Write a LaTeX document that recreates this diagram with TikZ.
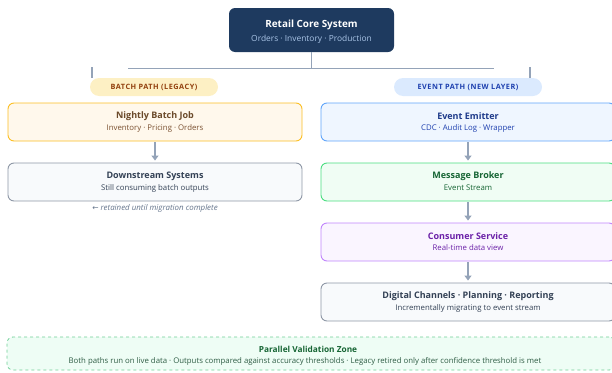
\documentclass[tikz,border=0pt]{standalone}
\usepackage{fontspec}
\setmainfont{Open Sans}
\newfontfamily\symfont{DejaVu Sans}
\usetikzlibrary{arrows.meta}
\definecolor{navy}{HTML}{1E3A5F}
\definecolor{navysub}{HTML}{A9C4E6}
\definecolor{linegray}{HTML}{94A3B8}
\definecolor{ybadge}{HTML}{FDF0C4}
\definecolor{ytext}{HTML}{92400E}
\definecolor{bbadge}{HTML}{DBEAFE}
\definecolor{btext}{HTML}{1E40AF}
\definecolor{orfill}{HTML}{FFF8EC}
\definecolor{ordraw}{HTML}{FBBF24}
\definecolor{ortitle}{HTML}{6B4A2A}
\definecolor{orsub}{HTML}{7A5030}
\definecolor{blfill}{HTML}{EFF6FF}
\definecolor{bldraw}{HTML}{60A5FA}
\definecolor{bltitle}{HTML}{1E3A8A}
\definecolor{grfill}{HTML}{F8FAFC}
\definecolor{grdraw}{HTML}{8E97A6}
\definecolor{grtitle}{HTML}{334155}
\definecolor{gnfill}{HTML}{F0FDF4}
\definecolor{gndraw}{HTML}{4ADE80}
\definecolor{gntitle}{HTML}{166534}
\definecolor{zsub}{HTML}{2F5D45}
\definecolor{pufill}{HTML}{FAF5FF}
\definecolor{pudraw}{HTML}{C084FC}
\definecolor{putitle}{HTML}{6B21A8}
\definecolor{zfill}{HTML}{EEFDF5}
\definecolor{zdraw}{HTML}{6FCF97}
\definecolor{notegray}{HTML}{64748B}
\tikzset{
  box/.style={rectangle, rounded corners=6pt, line width=0.9pt, minimum width=294pt, minimum height=38pt, inner sep=0pt},
  ttl/.style={font=\bfseries\fontsize{9}{10}\selectfont, inner sep=0pt, anchor=center},
  sub/.style={font=\fontsize{7.8}{9}\selectfont, inner sep=0pt, anchor=center},
  badge/.style={rectangle, rounded corners=9pt, minimum width=128pt, minimum height=18pt, inner sep=0pt, font=\bfseries\fontsize{7.3}{8}\selectfont\addfontfeatures{LetterSpace=7}},
  conn/.style={draw=linegray, line width=1.3pt},
  flow/.style={draw=linegray, line width=1.3pt, -{Triangle[length=5pt,width=7pt]}, shorten >=2pt, shorten <=1pt}
}
\begin{document}
\begin{tikzpicture}[x=1pt,y=-1pt]
\useasboundingbox (0,0) rectangle (612,372);
% core
\node[rectangle, rounded corners=6pt, fill=navy, minimum width=165pt, minimum height=44pt, inner sep=0pt] (core) at (311.5,30) {};
\node[ttl, text=white, font=\bfseries\fontsize{9.9}{11}\selectfont] (coret) at (311.5,25) {Retail Core System};
\node[sub, text=navysub, font=\fontsize{8.4}{9}\selectfont] (cores) at (311.5,39.5) {Orders · Inventory · Production};
% connectors from core
\coordinate (j) at (311.5,68);
\coordinate (hl) at (128,68);
\coordinate (hr) at (494,68);
\coordinate (sl1) at (92,67);
\coordinate (sl2) at (92,78);
\coordinate (sr1) at (530,67);
\coordinate (sr2) at (530,78);
\draw[conn] (core.south) -- (j);
\draw[draw=linegray, line width=1pt] (hl) -- (hr);
\draw[conn] (sl1) -- (sl2);
\draw[conn] (sr1) -- (sr2);
% badges
\node[badge, fill=ybadge, text=ytext] (bb) at (154,87) {BATCH PATH (LEGACY)};
\node[badge, fill=bbadge, text=btext, minimum width=148pt] (eb) at (468,87) {EVENT PATH (NEW LAYER)};
% left column
\node[box, fill=orfill, draw=ordraw] (nb) at (155,122) {};
\node[ttl, text=ortitle] (nbt) at (155,116.5) {Nightly Batch Job};
\node[sub, text=orsub] (nbs) at (155,128) {Inventory · Pricing · Orders};
\node[box, fill=grfill, draw=grdraw] (ds) at (155,182) {};
\node[ttl, text=grtitle] (dst) at (155,176.5) {Downstream Systems};
\node[sub, text=grtitle] (dss) at (155,188) {Still consuming batch outputs};
\node[sub, text=notegray, font=\itshape\fontsize{7.9}{8}\selectfont] (note) at (155,208.5) {{\symfont\fontsize{7.5}{8}\selectfont ←} retained until migration complete};
\draw[flow] (nb) -- (ds);
% right column
\node[box, fill=blfill, draw=bldraw] (ee) at (468,122) {};
\node[ttl, text=bltitle] (eet) at (468,116.5) {Event Emitter};
\node[sub, text=btext] (ees) at (468,128) {CDC · Audit Log · Wrapper};
\node[box, fill=gnfill, draw=gndraw] (mb) at (468,182) {};
\node[ttl, text=gntitle] (mbt) at (468,176.5) {Message Broker};
\node[sub, text=gntitle] (mbs) at (468,188) {Event Stream};
\node[box, fill=pufill, draw=pudraw] (cs) at (468,242) {};
\node[ttl, text=putitle] (cst) at (468,236.5) {Consumer Service};
\node[sub, text=putitle] (css) at (468,248) {Real-time data view};
\node[box, fill=grfill, draw=grdraw] (dc) at (468,302) {};
\node[ttl, text=grtitle] (dct) at (468,296.5) {Digital Channels · Planning · Reporting};
\node[sub, text=grtitle] (dcs) at (468,308) {Incrementally migrating to event stream};
\draw[flow] (ee) -- (mb);
\draw[flow] (mb) -- (cs);
\draw[flow] (cs) -- (dc);
% validation zone
\node[rectangle, rounded corners=6pt, fill=zfill, draw=zdraw, dashed, line width=0.8pt, minimum width=608pt, minimum height=33pt, inner sep=0pt] (zone) at (311,353.5) {};
\node[ttl, text=gntitle, font=\bfseries\fontsize{8.3}{9}\selectfont] (zt) at (308,349) {Parallel Validation Zone};
\node[sub, text=zsub] (zs) at (305,361) {Both paths run on live data · Outputs compared against accuracy thresholds · Legacy retired only after confidence threshold is met};
\end{tikzpicture}
\end{document}
